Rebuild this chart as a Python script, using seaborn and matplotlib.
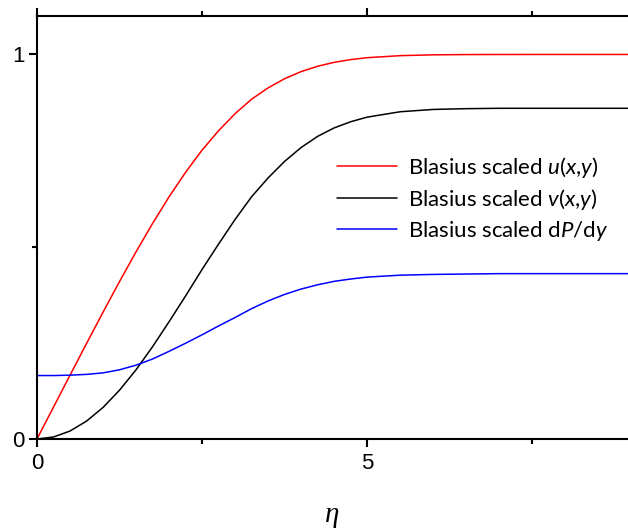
import numpy as np
import pandas as pd
import matplotlib
matplotlib.use("Agg")
import matplotlib.pyplot as plt
import seaborn as sns

# Similarity variable eta and the three scaled Blasius profiles
eta = [0.0, 0.25, 0.5, 0.75, 1.0, 1.25, 1.5, 1.75, 2.0, 2.25, 2.5, 2.75,
       3.0, 3.25, 3.5, 3.75, 4.0, 4.25, 4.5, 4.75, 5.0, 5.5, 6.0, 6.5,
       7.0, 8.0, 9.0]
u_scaled = [0.0, 0.0830, 0.1659, 0.2483, 0.3298, 0.4095, 0.4868, 0.5605,
            0.6298, 0.6935, 0.7513, 0.8017, 0.8461, 0.8837, 0.9131, 0.9369,
            0.9555, 0.9693, 0.9795, 0.9866, 0.9916, 0.9969, 0.9990, 0.9997,
            0.9999, 1.0, 1.0]
v_scaled = [0.0, 0.0052, 0.0207, 0.0465, 0.0821, 0.127, 0.180, 0.240,
            0.305, 0.372, 0.441, 0.507, 0.571, 0.630, 0.679, 0.722,
            0.758, 0.787, 0.809, 0.825, 0.837, 0.851, 0.857, 0.859,
            0.860, 0.860, 0.860]
dpdy_scaled = [0.165, 0.165, 0.166, 0.168, 0.172, 0.180, 0.192, 0.208,
               0.228, 0.249, 0.271, 0.294, 0.316, 0.339, 0.359, 0.376,
               0.390, 0.401, 0.410, 0.416, 0.421, 0.426, 0.428, 0.429,
               0.430, 0.430, 0.430]

series_names = ["u", "v", "dpdy"]
series_labels = [r"Blasius scaled $u$($x$,$y$)",
                 r"Blasius scaled $v$($x$,$y$)",
                 r"Blasius scaled d$P$/d$y$"]
series_colors = ["#ff0000", "#000000", "#0000ff"]

df = pd.concat([
    pd.DataFrame({"eta": eta, "value": u_scaled, "series": "u"}),
    pd.DataFrame({"eta": eta, "value": v_scaled, "series": "v"}),
    pd.DataFrame({"eta": eta, "value": dpdy_scaled, "series": "dpdy"}),
], ignore_index=True)

sns.set_style("ticks")
plt.rcParams["font.family"] = ["Liberation Sans", "DejaVu Sans"]
plt.rcParams["text.color"] = "black"
plt.rcParams["axes.labelcolor"] = "black"
plt.rcParams["xtick.color"] = "black"
plt.rcParams["ytick.color"] = "black"
plt.rcParams["mathtext.fontset"] = "custom"
plt.rcParams["mathtext.rm"] = "Lato"
plt.rcParams["mathtext.it"] = "Lato:italic"

fig = plt.figure(figsize=(6.28, 5.31), dpi=100)
ax = fig.add_axes([37 / 628, 92 / 531, 591 / 628, 423 / 531])

sns.lineplot(data=df, x="eta", y="value", hue="series",
             hue_order=series_names,
             palette=dict(zip(series_names, series_colors)),
             linewidth=1.1, ax=ax, legend=False, sort=False)

ax.set_xlim(0, 8.95)
ax.set_ylim(0, 1.1)

ax.set_xticks([0, 5])
ax.set_xticks([2.5, 7.5], minor=True)
ax.set_yticks([0, 1])
ax.set_yticks([0.5], minor=True)
ax.set_xticklabels(["0", "5"])
ax.set_yticklabels(["0", "1"])

for side in ["left", "bottom", "top"]:
    ax.spines[side].set_linewidth(1.5)
    ax.spines[side].set_color("black")
ax.spines["right"].set_visible(False)

ax.tick_params(which="major", direction="out", length=6, width=1.5,
               labelsize=16, top=True, pad=4, labelcolor="black")
ax.tick_params(which="minor", direction="out", length=3.8, width=1.5,
               top=True)
ax.tick_params(axis="y", which="both", right=False, pad=3)

ax.set_xlabel("η", fontsize=21, family="Liberation Serif", style="italic",
              labelpad=20, color="black")
ax.set_ylabel("")

handles = [plt.Line2D([], [], color=c, linewidth=1.1) for c in series_colors]
leg = ax.legend(handles, series_labels, loc="upper left",
                bbox_to_anchor=(337 / 628, (531 - 155) / 531),
                bbox_transform=fig.transFigure, frameon=False,
                borderpad=0, borderaxespad=0, handlelength=2.7,
                handletextpad=0.5, labelspacing=0.32,
                prop={"family": "Lato", "size": 16})
for t in leg.get_texts():
    t.set_color("black")

fig.savefig("out.png", dpi=100)
